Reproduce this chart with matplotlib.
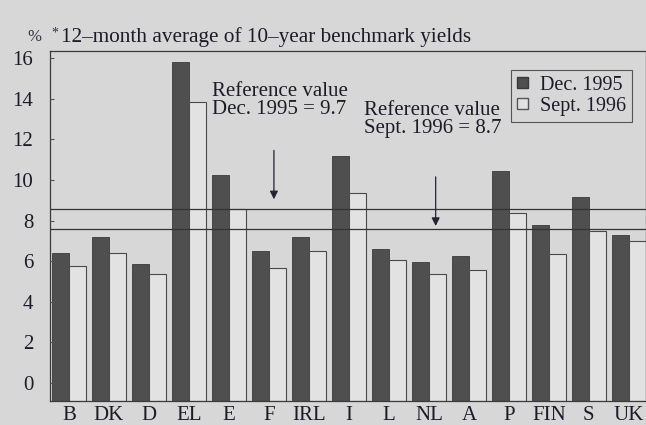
import numpy as np
import matplotlib
matplotlib.use('Agg')
import matplotlib.pyplot as plt
from matplotlib.patches import Patch

plt.rcParams['font.family'] = ['Liberation Serif', 'DejaVu Serif']

countries = ['B', 'DK', 'D', 'EL', 'E', 'F', 'IRL', 'I', 'L', 'NL', 'A', 'P', 'FIN', 'S', 'UK']
dec1995 = [7.5, 8.3, 6.9, 17.1, 11.4, 7.6, 8.3, 12.4, 7.7, 7.0, 7.3, 11.6, 8.9, 10.3, 8.4]
sep1996 = [6.8, 7.5, 6.4, 15.1, 9.7, 6.7, 7.6, 10.5, 7.1, 6.4, 6.6, 9.5, 7.4, 8.6, 8.1]
ref_dec1995 = 9.7
ref_sep1996 = 8.7

bg = '#d7d7d7'
ink = '#1c1c28'
dark = '#4f4f4f'
light = '#e2e2e2'
fs = 15

fig = plt.figure(figsize=(6.46, 4.25), dpi=100, facecolor=bg)
ax = fig.add_axes([0.0774, 0.0565, 0.9226, 0.8235])
ax.set_facecolor(bg)

x = np.arange(len(countries))
w = 0.425
ax.bar(x - w / 2, dec1995, w, color=dark, edgecolor='#3a3a3a', linewidth=0.6)
ax.bar(x + w / 2, sep1996, w, color=light, edgecolor='#4a4a4a', linewidth=0.8)

ax.axhline(ref_dec1995, color='#333333', lw=0.9)
ax.axhline(ref_sep1996, color='#333333', lw=0.9)

ax.set_xlim(-0.475, 14.43)
ax.set_ylim(0, 17.68)
ax.set_xticks(x)
ax.set_xticklabels(countries, fontsize=fs, color=ink)
ax.tick_params(axis='x', length=0, pad=3.5)
ax.set_yticks([])
for s in ax.spines.values():
    s.set_color('#3a3a3a')
    s.set_linewidth(0.9)

# tick labels sit on their own scale in the source
ax2 = ax.twinx()
ax2.set_ylim(-0.89, 16.35)
ax2.yaxis.tick_left()
ax2.set_yticks(range(0, 17, 2))
ax2.tick_params(axis='y', direction='in', length=3, pad=12, labelsize=fs,
                labelcolor=ink, color='#555555')
for s in ax2.spines.values():
    s.set_visible(False)

# reference value notes
ax.text(3.575, 16.1, 'Reference value\nDec. 1995 = 9.7', fontsize=fs, color=ink,
        va='top', ha='left', linespacing=0.9)
ax.text(7.375, 15.15, 'Reference value\nSept. 1996 = 8.7', fontsize=fs, color=ink,
        va='top', ha='left', linespacing=0.9)
ax.annotate('', xy=(5.125, 10.05), xytext=(5.125, 12.8),
            arrowprops=dict(arrowstyle='-|>', color='#222233', lw=0.9, mutation_scale=12))
ax.annotate('', xy=(9.17, 8.7), xytext=(9.17, 11.46),
            arrowprops=dict(arrowstyle='-|>', color='#222233', lw=0.9, mutation_scale=12))

leg = ax.legend(handles=[Patch(facecolor=dark, edgecolor='#3a3a3a', label='Dec. 1995'),
                         Patch(facecolor=light, edgecolor='#555555', label='Sept. 1996')],
                loc='upper right', bbox_to_anchor=(0.993, 0.975), fontsize=14.5,
                handlelength=0.5, handleheight=0.5, handletextpad=0.6,
                borderpad=0.3, labelspacing=0.1, fancybox=False, framealpha=1)
leg.get_frame().set_facecolor(bg)
leg.get_frame().set_edgecolor('#555555')
leg.get_frame().set_linewidth(0.8)
for t in leg.get_texts():
    t.set_color(ink)

fig.text(27 / 646, 1 - 37 / 425, '%', fontsize=12, color='#333344', va='center', ha='left')
fig.text(51 / 646, 1 - 33 / 425, '*', fontsize=10, color='#333344', va='center', ha='left')
fig.text(61 / 646, 1 - 37 / 425, '12\u2013month average of 10\u2013year benchmark yields',
         fontsize=15.3, color=ink, va='center', ha='left')

fig.savefig('out.png', dpi=100, facecolor=bg)
